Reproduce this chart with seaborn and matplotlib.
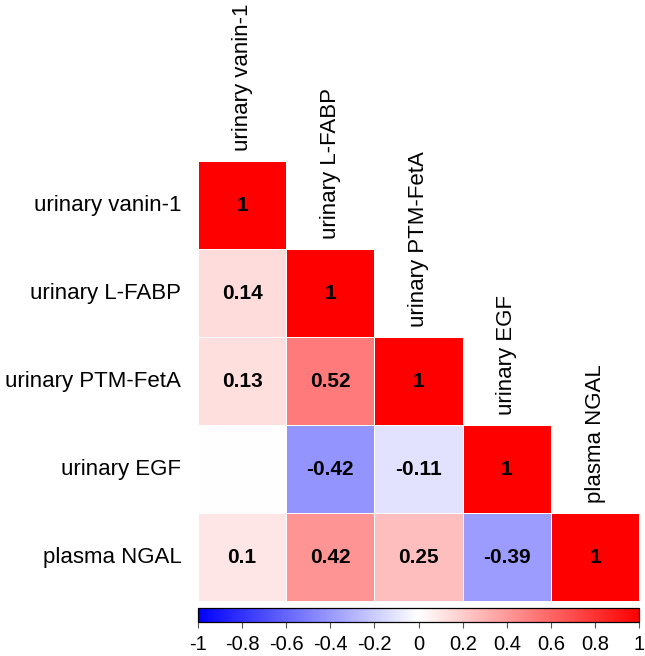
import numpy as np
import pandas as pd
import seaborn as sns
import matplotlib.pyplot as plt

labels = ['urinary vanin-1', 'urinary L-FABP', 'urinary PTM-FetA', 'urinary EGF', 'plasma NGAL']

# lower triangle values, row by row (None = not shown)
row_lfabp = [0.14]
row_ptm = [0.13, 0.52]
row_egf = [None, -0.42, -0.11]
row_ngal = [0.10, 0.42, 0.25, -0.39]
cbar_ticks = [-1, -0.8, -0.6, -0.4, -0.2, 0, 0.2, 0.4, 0.6, 0.8, 1]

n = len(labels)
corr = np.eye(n)
annot = np.full((n, n), '', dtype=object)
for i in range(n):
    annot[i, i] = '1'
for i, row in enumerate([row_lfabp, row_ptm, row_egf, row_ngal], start=1):
    for j, v in enumerate(row):
        if v is None:
            corr[i, j] = 0.0
        else:
            corr[i, j] = v
            annot[i, j] = f'{v:g}'
df = pd.DataFrame(corr, index=labels, columns=labels)
mask = np.triu(np.ones((n, n), dtype=bool), 1)

sns.set_style('white')
plt.rcParams['font.family'] = ['Liberation Sans', 'DejaVu Sans']
plt.rcParams['text.color'] = 'black'
plt.rcParams['xtick.labelcolor'] = 'black'
plt.rcParams['ytick.labelcolor'] = 'black'

fig = plt.figure(figsize=(6.45, 6.56), dpi=100)
ax = fig.add_axes([0.307, 0.0838, 0.684, 0.6707])
cax = fig.add_axes([0.307, 0.0518, 0.684, 0.0213])

sns.heatmap(df, mask=mask, cmap='bwr', vmin=-1, vmax=1, annot=annot, fmt='',
            annot_kws={'size': 15, 'weight': 'bold', 'color': 'black'},
            linewidths=0.6, linecolor='white', square=False,
            cbar_ax=cax, cbar_kws={'orientation': 'horizontal', 'ticks': cbar_ticks},
            xticklabels=False, ax=ax)

ax.set_yticklabels(labels, rotation=0, fontsize=16)
ax.tick_params(axis='y', length=0, pad=12)
ax.set_xlabel('')
ax.set_ylabel('')

for j, lab in enumerate(labels):
    ax.text(j + 0.5, j - 0.11, lab, rotation=90, ha='center', va='bottom',
            fontsize=16, color='black', clip_on=False)

cbar = ax.collections[0].colorbar
cbar.outline.set_visible(True)
cbar.outline.set_edgecolor('black')
cbar.outline.set_linewidth(0.9)
cax.set_xticklabels([f'{t:g}' for t in cbar_ticks], fontsize=14.5)
cax.tick_params(axis='x', length=4, width=0.8, direction='out', color='#555555', pad=5)

fig.savefig('out.png', dpi=100)
